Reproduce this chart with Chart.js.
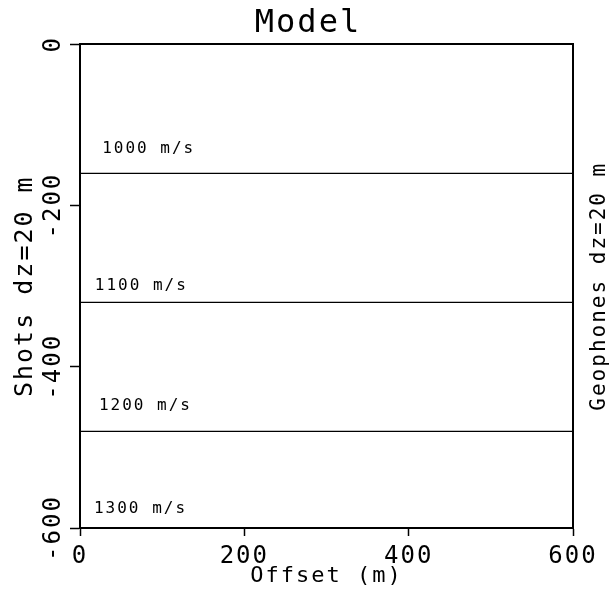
<!DOCTYPE html>
<html><head><meta charset="utf-8">
<script src="https://cdn.jsdelivr.net/npm/chart.js@4.4.0/dist/chart.umd.min.js"></script>
<style>html,body{margin:0;padding:0;background:#fff}canvas{display:block}</style>
</head><body>
<canvas id="c" width="616" height="600"></canvas>
<script>
const xTicks = [0, 200, 400, 600];
const yTicks = [0, -200, -400, -600];
const xTickLabels = ['0', '200', '400', '600'];
const yTickLabels = ['0', '-200', '-400', '-600'];
const offsetRange = [0, 600];
const interfaceDepths = [-160, -320, -480];
const velocityLabels = ['1000 m/s', '1100 m/s', '1200 m/s', '1300 m/s'];
const velocityLabelX = [27, 18, 23, 17];
const velocityLabelY = [-129, -299, -448, -576];
const titleText = 'Model';
const xTitle = 'Offset (m)';
const yTitle = 'Shots dz=20 m';
const y2Title = 'Geophones dz=20 m';

const FONT = "'DejaVu Sans Mono', monospace";
const SPACING = '2px';

const datasets = interfaceDepths.map(d => ({
  data: offsetRange.map(x => ({ x: x, y: d })),
  showLine: true, borderColor: '#000', borderWidth: 1.2, pointRadius: 0, fill: false
}));

const spacingPlugin = {
  id: 'spacing',
  beforeUpdate(chart) { chart.ctx.letterSpacing = SPACING; },
  beforeLayout(chart) { chart.ctx.letterSpacing = SPACING; },
  beforeDraw(chart) { chart.ctx.letterSpacing = SPACING; }
};

const annotate = {
  id: 'annotate',
  afterDraw(chart) {
    const { ctx, chartArea, scales: { x, y } } = chart;
    ctx.save();
    ctx.letterSpacing = SPACING;
    ctx.fillStyle = '#000';
    ctx.font = '16px ' + FONT;
    ctx.textAlign = 'left';
    ctx.textBaseline = 'middle';
    velocityLabels.forEach((t, i) => {
      ctx.fillText(t, x.getPixelForValue(velocityLabelX[i]), y.getPixelForValue(velocityLabelY[i]));
    });
    ctx.font = '21px ' + FONT;
    ctx.translate(600, (chartArea.top + chartArea.bottom) / 2);
    ctx.rotate(-Math.PI / 2);
    ctx.textAlign = 'center';
    ctx.fillText(y2Title, 0, 0);
    ctx.restore();
  }
};

new Chart(document.getElementById('c'), {
  type: 'scatter',
  data: { datasets: datasets },
  plugins: [spacingPlugin, annotate],
  options: {
    responsive: false,
    animation: false,
    events: [],
    layout: { padding: 0 },
    plugins: {
      legend: { display: false },
      tooltip: { enabled: false },
      title: {
        display: true, text: titleText, color: '#000',
        font: { family: FONT, size: 32, weight: 'normal' },
        padding: { top: 4, bottom: 2 }
      }
    },
    scales: {
      x: {
        type: 'linear', position: 'bottom', min: 0, max: 600,
        afterBuildTicks: s => { s.ticks = xTicks.map(v => ({ value: v })); },
        ticks: {
          color: '#000', font: { family: FONT, size: 24 }, padding: 6, maxRotation: 0,
          callback: (v, i) => xTickLabels[i]
        },
        grid: { drawOnChartArea: false, tickLength: 8, tickColor: '#000', tickWidth: 1.5 },
        border: { display: true, color: '#000', width: 2 },
        title: {
          display: true, text: xTitle, color: '#000',
          font: { family: FONT, size: 22 }, padding: { top: 0, bottom: 11 }
        },
        afterFit: s => { s.height = 72; }
      },
      x2: {
        type: 'linear', position: 'top', min: 0, max: 600,
        ticks: { display: false },
        grid: { drawOnChartArea: false, drawTicks: false },
        border: { display: true, color: '#000', width: 2 },
        afterFit: s => { s.height = 0; }
      },
      y: {
        type: 'linear', position: 'left', min: -600, max: 0,
        afterBuildTicks: s => { s.ticks = yTicks.map(v => ({ value: v })); },
        ticks: {
          color: '#000', font: { family: FONT, size: 24 }, minRotation: 90, maxRotation: 90,
          crossAlign: 'center', padding: -17,
          callback: (v, i) => yTickLabels[yTicks.indexOf(v)]
        },
        grid: { drawOnChartArea: false, tickLength: 10, tickColor: '#000', tickWidth: 1.5 },
        border: { display: true, color: '#000', width: 2 },
        title: {
          display: true, text: yTitle, color: '#000',
          font: { family: FONT, size: 25 }, padding: { top: 10, bottom: 0 }
        },
        afterFit: s => { s.width = 80; }
      },
      y2: {
        type: 'linear', position: 'right', min: -600, max: 0,
        ticks: { display: false },
        grid: { drawOnChartArea: false, drawTicks: false },
        border: { display: true, color: '#000', width: 2 },
        afterFit: s => { s.width = 43; }
      }
    }
  }
});
</script>
</body></html>
